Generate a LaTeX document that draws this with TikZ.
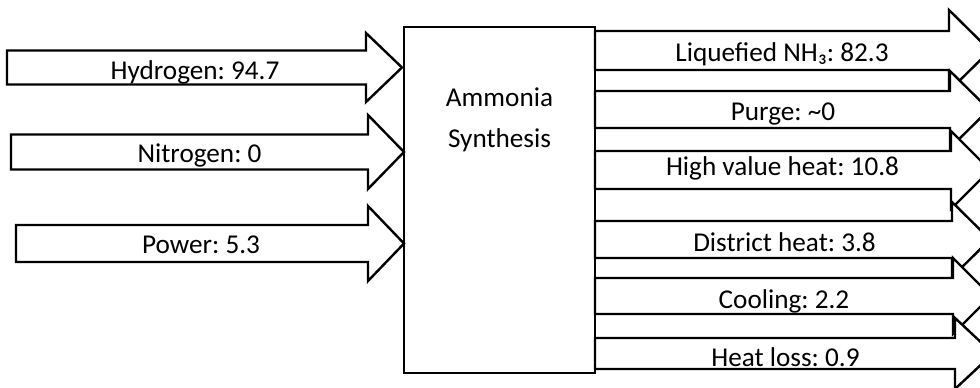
\documentclass[tikz,border=0pt]{standalone}
\usepackage{fontspec}
\setmainfont{Carlito}
\frenchspacing

\tikzset{every picture/.style={line width=1.8pt}}
\tikzset{
  blockarrow/.style={draw=black, fill=white, line width=1.8pt},
  flowlabel/.style={anchor=base, inner sep=0.75pt, font=\fontsize{20.4}{24}\selectfont},
}

\begin{document}
\begin{tikzpicture}[x=0.75pt,y=0.75pt,yscale=-1,xscale=1]
\useasboundingbox (0,0) rectangle (980,387);
\clip (0,0) rectangle (980,387);
%Shape: Rectangle [id:synthbox]
\draw [line width=1.8pt] (404,27) rectangle (595,373);
% Text Node
\node (ammonia) [flowlabel] at (499.5,106) {Ammonia};
% Text Node
\node (synthesis) [flowlabel] at (499.5,147) {Synthesis};
%Shape: Right Arrow [id:hydrogen]
\draw [blockarrow] (7,50.5) -- (366,50.5) -- (366,33) -- (402,67.5) -- (366,102) -- (366,84.5) -- (7,84.5) -- cycle;
%Shape: Right Arrow [id:nitrogen]
\draw [blockarrow] (11,134.5) -- (368,134.5) -- (368,115) -- (404,152) -- (368,189) -- (368,169.5) -- (11,169.5) -- cycle;
%Shape: Right Arrow [id:power]
\draw [blockarrow] (16,225) -- (368,225) -- (368,206) -- (404,243.5) -- (368,281) -- (368,262) -- (16,262) -- cycle;
% Text Node
\node (hydrogen) [flowlabel] at (195,79) {Hydrogen: 94.7};
% Text Node
\node (nitrogen) [flowlabel] at (199.5,162.5) {Nitrogen: 0};
% Text Node
\node (power) [flowlabel] at (201,253) {Power: 5.3};
%Shape: Right Arrow [id:liquefied]
\draw [blockarrow] (595,31) -- (949,31) -- (949,10) -- (990,50.5) -- (949,91) -- (949,70) -- (595,70) -- cycle;
% Text Node
\node (liquefied) [flowlabel] at (782,61) {Liquefied NH₃: 82.3};
%Shape: Right Arrow [id:purge]
\draw [blockarrow] (595,91) -- (950,91) -- (950,71) -- (989,109.5) -- (950,148) -- (950,128) -- (595,128) -- cycle;
% Text Node
\node (purge) [flowlabel] at (783,120) {Purge: \textasciitilde 0};
%Shape: Right Arrow [id:highheat]
\draw [blockarrow] (595,151) -- (951,151) -- (951,131) -- (990,170) -- (951,209) -- (951,189) -- (595,189) -- cycle;
% Text Node
\node (highheat) [flowlabel] at (782.5,175) {High value heat: 10.8};
%Shape: Right Arrow [id:district]
\draw [blockarrow] (595,221) -- (952,221) -- (952,202) -- (990,239.5) -- (952,277) -- (952,258) -- (595,258) -- cycle;
% Text Node
\node (district) [flowlabel] at (784.5,251.5) {District heat: 3.8};
%Shape: Right Arrow [id:cooling]
\draw [blockarrow] (595,278) -- (953,278) -- (953,258) -- (991,296) -- (953,334) -- (953,314) -- (595,314) -- cycle;
% Text Node
\node (cooling) [flowlabel] at (784,308) {Cooling: 2.2};
%Shape: Right Arrow [id:heatloss]
\draw [blockarrow] (595,338) -- (955,338) -- (955,318) -- (993,353.5) -- (955,389) -- (955,369) -- (595,369) -- cycle;
% Text Node
\node (heatloss) [flowlabel] at (785.5,366) {Heat loss: 0.9};

\end{tikzpicture}
\end{document}
